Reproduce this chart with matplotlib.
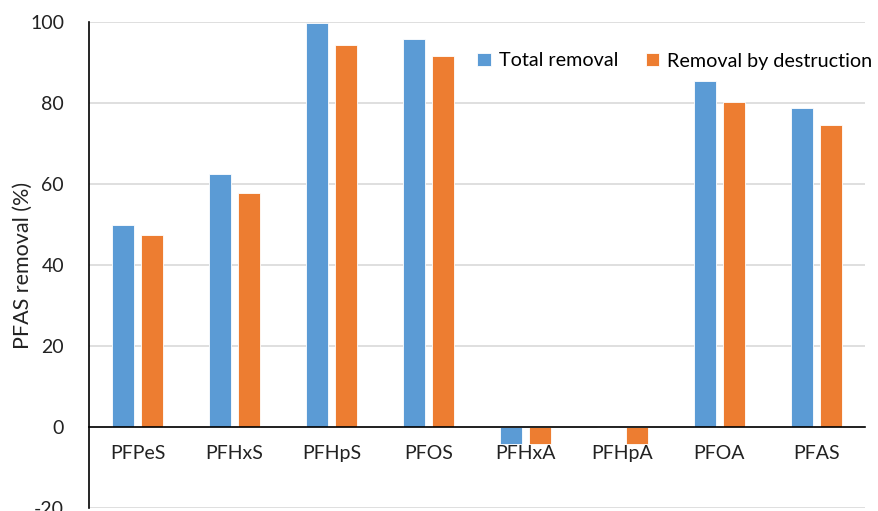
import matplotlib
matplotlib.use("Agg")
import matplotlib.pyplot as plt
import numpy as np

categories = ["PFPeS", "PFHxS", "PFHpS", "PFOS", "PFHxA", "PFHpA", "PFOA", "PFAS"]
total_removal = [49.8, 62.4, 99.8, 95.7, -4.1, 0.0, 85.4, 78.7]
removal_destruction = [47.5, 57.9, 94.3, 91.6, -4.2, -4.2, 80.2, 74.6]
series_names = ["Total removal", "Removal by destruction"]
yticks = [-20, 0, 20, 40, 60, 80, 100]

plt.rcParams['font.family'] = ['Lato', 'DejaVu Sans']

W, H = 879, 511
fig = plt.figure(figsize=(W / 100, H / 100), dpi=100)
left, right, top, bottom = 89, 865, 22, 508
ax = fig.add_axes([left / W, 1 - bottom / H, (right - left) / W, (bottom - top) / H])

x = np.arange(len(categories))
bw = 0.228
off = 0.145
blue = "#5B9BD5"
orange = "#ED7D31"
ax.bar(x - off, total_removal, bw, color=blue, edgecolor="white", linewidth=0.6, label=series_names[0], zorder=3)
ax.bar(x + off, removal_destruction, bw, color=orange, edgecolor="white", linewidth=0.6, label=series_names[1], zorder=3)

for s in ["top", "right"]:
    ax.spines[s].set_visible(False)
ax.spines["bottom"].set_position(("data", 0))
ax.spines["bottom"].set_color("black")
ax.spines["bottom"].set_linewidth(1.2)
ax.spines["bottom"].set_zorder(4)
ax.spines["left"].set_color("black")
ax.spines["left"].set_linewidth(1.2)

ax.set_xlim(-0.5, len(categories) - 0.5)
ax.set_ylim(-20, 100)
ax.set_yticks(yticks)
ax.set_yticklabels([str(v) for v in yticks])
ax.yaxis.grid(True, color="#D9D9D9", linewidth=1.2, zorder=0)
ax.set_axisbelow(True)
ax.set_xticks(x)
ax.set_xticklabels(categories)
ax.tick_params(axis='y', length=0, pad=18, labelsize=14, labelcolor="#222222")
ax.tick_params(axis='x', length=0, pad=13, labelsize=14, labelcolor="#222222")

ax.set_ylabel("PFAS removal (%)", fontsize=15.5, color="#222222", labelpad=-2)

fig.legend(loc="center left", bbox_to_anchor=(467 / W, 1 - 61 / H), ncol=2, frameon=False,
           fontsize=14.2, handlelength=0.7, handleheight=0.7, handletextpad=0.4,
           columnspacing=1.4, borderpad=0)

fig.savefig("out.png", dpi=100)
